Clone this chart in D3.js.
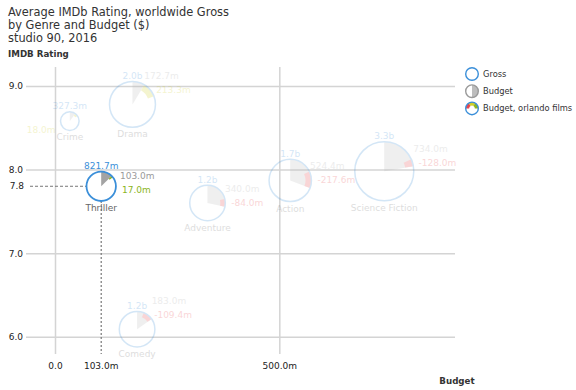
<!DOCTYPE html>
<html><head><meta charset="utf-8">
<script src="https://cdn.jsdelivr.net/npm/d3@7"></script>
<style>body{margin:0;background:#fff}svg{display:block}</style>
</head><body>
<svg id="c" width="576" height="390"></svg>
<script>
// ---- data ----
const categories = ["Crime","Drama","Thriller","Adventure","Action","Science Fiction","Comedy"];
const budget  = [33.0, 172.7, 103.0, 340.0, 524.4, 734.0, 183.0];   // $m
const gross   = [327.3, 2000, 821.7, 1200, 1700, 3300, 1200];      // $m
const rating  = [8.58, 8.78, 7.8, 7.6, 7.87, 7.98, 6.09];
const orlando = [18.0, 213.3, 17.0, -84.0, -217.6, -128.0, -109.4]; // $m
const selected = "Thriller";
const yTicks = [6, 7, 8, 9];
const xTicks = [0, 500];
const titleLines = ["Average IMDb Rating, worldwide Gross", "by Genre and Budget ($)", "studio 90, 2016"];
const legendItems = ["Gross", "Budget", "Budget, orlando films"];

// ---- setup ----
const W = 576, H = 390;
const svg = d3.select("#c").style("font-family", "'DejaVu Sans', Verdana, sans-serif");
const BLUE = "#3b8fd9", GRAY = "#a6a6a6", RED = "#e8454a", GREEN = "#8cb51e", YELLOW = "#cfcf2a";
const x = d3.scaleLinear().domain([0, 500]).range([55, 279.3]);
const y = d3.scaleLinear().domain([6, 9]).range([336.7, 86]);
const r = d3.scaleSqrt().domain([0, 3300]).range([0, 29.5]);
const oColor = d3.scaleThreshold().domain([0, 0.5]).range([RED, GREEN, YELLOW]);
const fmt = v => Math.abs(v) >= 1000 ? (v / 1000).toFixed(1) + "b" : v.toFixed(1) + "m";
const plotL = 26, plotR = 455, plotT = 67, plotB = 354;

// title
svg.append("g").selectAll("text").data(titleLines).join("text")
  .attr("x", 8).attr("y", (d, i) => 15.5 + i * 13.3)
  .attr("font-size", 11.4).attr("fill", "#333").text(d => d);
svg.append("text").attr("x", 8).attr("y", 57).attr("font-size", 8.7)
  .attr("fill", "#333").attr("font-weight", 600).text("IMDB Rating");

// y axis + horizontal grid
const ya = svg.append("g").attr("transform", `translate(${plotL},0)`)
  .call(d3.axisLeft(y).tickValues(yTicks).tickFormat(d3.format(".1f"))
    .tickSize(-(plotR - plotL)).tickPadding(3));
ya.select(".domain").remove();
ya.selectAll("line").attr("stroke", "#d4d4d4").attr("stroke-width", 1.5);
ya.selectAll("text").attr("font-size", 9).attr("fill", "#222").attr("font-family", "'DejaVu Sans', sans-serif");

// x axis + vertical grid
const xa = svg.append("g").attr("transform", `translate(0,${plotB})`)
  .call(d3.axisBottom(x).tickValues(xTicks).tickFormat(v => v === 0 ? "0.0" : fmt(v))
    .tickSize(-(plotB - plotT)).tickPadding(9));
xa.select(".domain").remove();
xa.selectAll("line").attr("stroke", "#d4d4d4").attr("stroke-width", 1.5);
xa.selectAll("text").attr("font-size", 9).attr("fill", "#222").attr("font-family", "'DejaVu Sans', sans-serif");
svg.append("text").attr("x", 457).attr("y", 384).attr("text-anchor", "middle")
  .attr("font-size", 8.7).attr("font-weight", 600).attr("fill", "#333").text("Budget");

// records
const data = categories.map((c, i) => {
  const R = r(gross[i]);
  const tb = budget[i] / gross[i] * 2 * Math.PI;
  const to = Math.abs(orlando[i]) / gross[i] * 2 * Math.PI;
  const seg = orlando[i] >= 0 ? [tb, tb + to] : [tb - to, tb];
  return {c, i, cx: x(budget[i]), cy: y(rating[i]), R, tb, seg,
    col: oColor(orlando[i] / budget[i]), sel: c === selected};
});

// selection guide lines
const s = data.find(d => d.sel);
svg.append("line").attr("x1", 30).attr("x2", s.cx - s.R).attr("y1", s.cy).attr("y2", s.cy)
  .attr("stroke", "#777").attr("stroke-dasharray", "3,2").attr("stroke-width", 1);
svg.append("line").attr("x1", s.cx).attr("x2", s.cx).attr("y1", s.cy + s.R).attr("y2", plotB)
  .attr("stroke", "#777").attr("stroke-dasharray", "2,2").attr("stroke-width", 1.2);
svg.append("text").attr("x", 24).attr("y", s.cy + 3.2).attr("text-anchor", "end")
  .attr("font-size", 9).attr("fill", "#222").text(rating[s.i].toFixed(1));
svg.append("text").attr("x", s.cx).attr("y", plotB + 15.4).attr("text-anchor", "middle")
  .attr("font-size", 9).attr("fill", "#222").text(fmt(budget[s.i]));

// bubbles
const arc = d3.arc();
const g = svg.append("g").selectAll("g").data(data).join("g")
  .attr("transform", d => `translate(${d.cx},${d.cy})`)
  .attr("opacity", d => d.sel ? 1 : 0.22);
g.append("path").attr("fill", d => d.sel ? "#a3a3a3" : "#b8b8b8")
  .attr("d", d => arc({innerRadius: 0, outerRadius: d.R, startAngle: 0, endAngle: d.tb}));
g.append("path").attr("fill", d => d.col)
  .attr("d", d => arc({innerRadius: d.R * 0.72, outerRadius: d.R, startAngle: d.seg[0], endAngle: d.seg[1]}));
g.append("circle").attr("r", d => d.R).attr("fill", "none").attr("stroke", BLUE)
  .attr("stroke-width", d => d.sel ? 1.8 : 1.5);
// gross label
g.append("text").attr("y", d => -d.R - 2.5).attr("text-anchor", "middle")
  .attr("font-size", 9).attr("fill", BLUE).text(d => fmt(gross[d.i]));
// category label
g.append("text").attr("y", d => d.R + 10).attr("text-anchor", "middle")
  .attr("font-size", 9).attr("fill", "#666").text(d => d.c);
// budget & orlando labels
g.each(function(d) {
  const gg = d3.select(this);
  const mid = (d.seg[0] + d.seg[1]) / 2;
  let oy = -d.R * Math.cos(mid) + 3;
  let ox = d.R * Math.sin(mid) + 6;
  let bx = d.R * Math.sin(d.tb);
  let by = oy - 14;
  const grossW = fmt(gross[d.i]).length * 5.7;
  const grossBase = -d.R - 2.5;
  // collision with gross label → push down and out of the circle
  if (bx < grossW / 2 && by - 7 < grossBase) {
    const push = grossBase - (by - 7) + 3;
    by += push; oy += push;
    bx = d.R + 4; ox = d.R + 6;
  }
  const small = d.R < 12;
  if (!small) {
    gg.append("text").attr("x", bx).attr("y", by).attr("font-size", 9)
      .attr("fill", d.sel ? "#9a9a9a" : "#aaa").text(fmt(budget[d.i]));
    gg.append("text").attr("x", ox).attr("y", oy).attr("font-size", 9)
      .attr("fill", d.col).text(fmt(orlando[d.i]));
  } else {
    gg.append("text").attr("x", -d.R - 5).attr("y", oy).attr("text-anchor", "end")
      .attr("font-size", 9).attr("fill", d.col).text(fmt(orlando[d.i]));
  }
});

// legend
const lg = svg.append("g").attr("transform", "translate(472,74)");
const li = lg.selectAll("g").data(legendItems).join("g").attr("transform", (d, i) => `translate(0,${i * 17.2})`);
li.append("text").attr("x", 11).attr("y", 3).attr("font-size", 8.3).attr("fill", "#333").text(d => d);
const L = 6.3;
li.filter((d, i) => i === 1).append("path").attr("fill", "#bdbdbd")
  .attr("d", arc({innerRadius: 0, outerRadius: L, startAngle: 0, endAngle: Math.PI}));
const ringCols = [RED, YELLOW, GREEN];
li.filter((d, i) => i === 2).selectAll("path").data(ringCols).join("path").attr("fill", c => c)
  .attr("d", (c, k) => arc({innerRadius: L * 0.45, outerRadius: L,
    startAngle: -Math.PI / 2 + k * Math.PI / 3, endAngle: -Math.PI / 2 + (k + 1) * Math.PI / 3}));
li.append("circle").attr("r", L).attr("fill", "none")
  .attr("stroke", (d, i) => i === 1 ? "#9a9a9a" : BLUE).attr("stroke-width", 1.4);
</script>
</body></html>
